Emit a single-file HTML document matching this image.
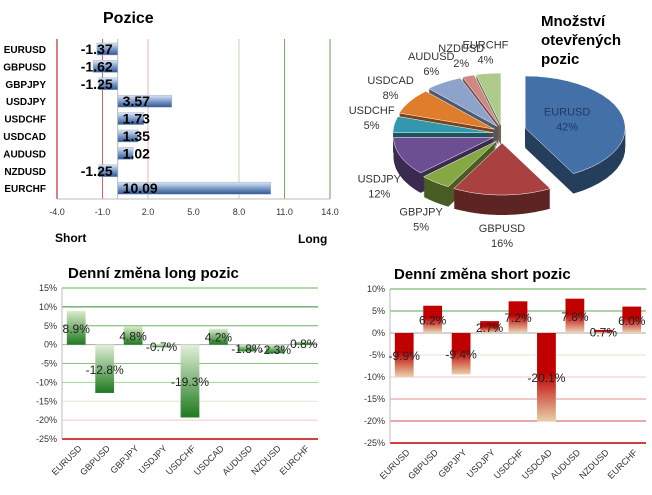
<!DOCTYPE html>
<html><head><meta charset="utf-8"><style>
body{margin:0;background:#fff;width:652px;height:490px;overflow:hidden;font-family:"Liberation Sans",sans-serif}
svg text{font-family:"Liberation Sans",sans-serif}
</style></head><body>
<svg id="s" width="652" height="490" viewBox="0 0 652 490">
<defs>
<linearGradient id="gb" x1="0" y1="0" x2="0" y2="1"><stop offset="0" stop-color="#dfe8f5"/><stop offset="0.5" stop-color="#7d9cc8"/><stop offset="1" stop-color="#2f5590"/></linearGradient>
<linearGradient id="gg" x1="0" y1="0" x2="0" y2="1"><stop offset="0" stop-color="#d9ebc9"/><stop offset="1" stop-color="#1f7a1f"/></linearGradient>
<linearGradient id="ggn" x1="0" y1="0" x2="0" y2="1"><stop offset="0" stop-color="#e3f0d8"/><stop offset="1" stop-color="#1f7a1f"/></linearGradient>
<linearGradient id="gr" x1="0" y1="0" x2="0" y2="1"><stop offset="0" stop-color="#c00000"/><stop offset="0.45" stop-color="#c00000"/><stop offset="1" stop-color="#e8d0a8"/></linearGradient>
<linearGradient id="grp" x1="0" y1="0" x2="0" y2="1"><stop offset="0" stop-color="#c00000"/><stop offset="0.45" stop-color="#c00000"/><stop offset="1" stop-color="#ead8b8"/></linearGradient>
</defs>
<g id="c1"></g>
<g id="c2"></g>
<g id="c3"></g>
<g id="c4"></g>
</svg>
<script>
const NS='http://www.w3.org/2000/svg';
const pairs1=['EURUSD','GBPUSD','GBPJPY','USDJPY','USDCHF','USDCAD','AUDUSD','NZDUSD','EURCHF'];
const posValues=[-1.37,-1.62,-1.25,3.57,1.73,1.35,1.02,-1.25,10.09];
const posTicks=[-4,-1,2,5,8,11,14];
const pieLabels=['EURUSD','GBPUSD','GBPJPY','USDJPY','USDCHF','USDCAD','AUDUSD','NZDUSD','EURCHF'];
const pieValues=[42,16,5,12,5,8,6,2,4];
const pieColors=['#4470a8','#a94140','#85a843','#6b4f92','#3398ad','#e07d2c','#8ea3cc','#cf8886','#aecb8c'];
const pairs2=['EURUSD','GBPUSD','GBPJPY','USDJPY','USDCHF','USDCAD','AUDUSD','NZDUSD','EURCHF'];
const longValues=[8.9,-12.8,4.8,-0.7,-19.3,4.2,-1.8,-2.3,0.8];
const longTicks=[15,10,5,0,-5,-10,-15,-20,-25];
const shortValues=[-9.9,6.2,-9.4,2.7,7.2,-20.1,7.8,0.7,6.0];
const shortTicks=[10,5,0,-5,-10,-15,-20,-25];

function el(p,tag,a,txt){const e=document.createElementNS(NS,tag);for(const k in a)e.setAttribute(k,a[k]);if(txt!==undefined)e.textContent=txt;p.appendChild(e);return e;}

// ---- positions chart
(function(){
const g=document.getElementById('c1');
const x=v=>57+(v+4)*(273/18);
const rowY=i=>49+i*17.4;
let t=el(g,'text',{x:103,y:23,'font-size':16,'font-weight':'bold'},'Pozice');

posTicks.forEach((v,i)=>{
 const l=el(g,'line',{x1:x(v),x2:x(v),y1:39,y2:199,stroke:['#b00000','#e06060','#f0b0b0','#ffffff','#b8d8b0','#70b060','#5aa850'][i],'stroke-width':1});
 
 const tt=el(g,'text',{x:x(v),y:215,'font-size':9,'text-anchor':'middle',fill:'#333'},v.toFixed(1));
 
});
el(g,'line',{x1:x(-4),x2:x(14),y1:199,y2:199,stroke:'#bbb'});
el(g,'line',{x1:x(0),x2:x(0),y1:39,y2:199,stroke:'#bbb'});
pairs1.forEach((p,i)=>{
 const y=rowY(i),v=posValues[i];
 const lab=el(g,'text',{x:46,y:y+4,'font-size':10,'font-weight':'bold','text-anchor':'end'},p);
 
 const x0=Math.min(x(0),x(v)),w=Math.abs(x(v)-x(0));
 const b=el(g,'rect',{x:x0,y:y-6,width:w,height:12,fill:'url(#gb)',stroke:'#9fb3cf','stroke-width':0.5});
 
 const tv=v<0?el(g,'text',{x:x(0)-5,y:y+5,'font-size':14,'font-weight':'bold','text-anchor':'end'},v.toFixed(2)):el(g,'text',{x:x(0)+5,y:y+5,'font-size':14,'font-weight':'bold'},v.toFixed(2));
 
});
t=el(g,'text',{x:55,y:242,'font-size':12,'font-weight':'bold'},'Short');
t=el(g,'text',{x:298,y:243,'font-size':12,'font-weight':'bold'},'Long');
})();

// ---- pie
(function(){
const g=document.getElementById('c2');
const cx=502,cy=134,rx=100,ry=52,depth=20;
const tot=pieValues.reduce((a,b)=>a+b,0);
let a0=-90;
const slices=[];
pieValues.forEach((v,i)=>{const a1=a0+v/tot*360;slices.push([a0,a1]);a0=a1;});
function shade(c,f){const n=parseInt(c.slice(1),16);return 'rgb('+[(n>>16)&255,(n>>8)&255,n&255].map(q=>Math.round(q*f)).join(',')+')';}
function path(ox,oy,s,e){const r=d=>d*Math.PI/180;let d='M'+ox+','+oy;const N=24;for(let k=0;k<=N;k++){const a=r(s+(e-s)*k/N);d+=' L'+(ox+rx*Math.cos(a)).toFixed(1)+','+(oy+ry*Math.sin(a)).toFixed(1);}return d+'Z';}
const offs=slices.map(([s,e],i)=>{const m=(s+e)/2*Math.PI/180;const ex=i===0?24:9;return [Math.cos(m)*ex,Math.sin(m)*ex];});
for(let d=depth;d>0;d-=1){slices.forEach(([s,e],i)=>{el(g,'path',{d:path(cx+offs[i][0],cy+offs[i][1]+d,s,e),fill:shade(pieColors[i],0.55)});});}
slices.forEach(([s,e],i)=>{
 const p=el(g,'path',{d:path(cx+offs[i][0],cy+offs[i][1],s,e),fill:pieColors[i],stroke:'#fff','stroke-width':0.5});
 
 const m=(s+e)/2*Math.PI/180;
 let lx,ly,col='#333';
 if(i===0){lx=cx+Math.cos(m)*rx*0.6+offs[i][0]*0.3;ly=cy+Math.sin(m)*ry*0.5-12;col='#1e3a66';}
 else{lx=cx+Math.cos(m)*rx*1.32;ly=cy+Math.sin(m)*ry*1.5+(Math.sin(m)>0?20:-8);}
 const tx=el(g,'text',{x:lx,y:ly,'font-size':11,'text-anchor':'middle',fill:col},pieLabels[i]);
 
 const tp=el(g,'text',{x:lx,y:ly+15,'font-size':11,'text-anchor':'middle',fill:col},pieValues[i]+'%');
 
});
[['Množství',26],['otevřených',45],['pozic',64]].forEach(([s,y])=>{const t=el(g,'text',{x:541,y:y,'font-size':15,'font-weight':'bold'},s);});
})();

// ---- bar charts
function barChart(gid,title,titleX,vals,ticks,top,bot,left,right,gridCols,barFillPos,barFillNeg){
 const g=document.getElementById(gid);
 const vmax=ticks[0],vmin=ticks[ticks.length-1];
 const y=v=>top+(vmax-v)/(vmax-vmin)*(bot-top);
 const t=el(g,'text',{x:titleX,y:top-10,'font-size':15,'font-weight':'bold'},title);
 
 ticks.forEach((v,i)=>{
  const l=el(g,'line',{x1:left,x2:right,y1:y(v),y2:y(v),stroke:v===0?'#aaa':gridCols[i],'stroke-width':v===vmin?1.5:1});
  
  const tt=el(g,'text',{x:left-5,y:y(v)+3,'font-size':9,'text-anchor':'end',fill:'#333'},v+'%');
  
 });
 el(g,'line',{x1:left,x2:left,y1:top,y2:bot,stroke:'#bbb'});
 const cw=(right-left)/vals.length;
 vals.forEach((v,i)=>{
  const cxp=left+cw*(i+0.5),bw=cw*0.66;
  const y0=Math.min(y(0),y(v)),h=Math.abs(y(v)-y(0));
  const b=el(g,'rect',{x:cxp-bw/2,y:y0,width:bw,height:h,fill:v>=0?barFillPos:barFillNeg});
  
  const lv=el(g,'text',{x:cxp,y:(y(0)+y(v))/2+5,'font-size':12,'text-anchor':'middle',fill:'#222'},v.toFixed(1)+'%');
  
  const cl=el(g,'text',{x:cxp+6,y:bot+10,'font-size':9,'text-anchor':'end',fill:'#333',transform:'rotate(-45 '+(cxp+6)+' '+(bot+10)+')'},pairs2[i]);
  
 });
}
barChart('c3','Denní změna long pozic',68,longValues,longTicks,288,439,62,318,
 ['#6cb060','#2e8b2e','#6cb060','#aaa','#8cc080','#a8d098','#d8ead0','#f3c8c8','#c00000'],'url(#gg)','url(#ggn)');
barChart('c4','Denní změna short pozic',394,shortValues,shortTicks,289,443,390,646,
 ['#5aa850','#5aa850','#aaa','#d8ead0','#f0c8c8','#e09090','#d05050','#c00000'],'url(#grp)','url(#gr)');
</script>
</body></html>
